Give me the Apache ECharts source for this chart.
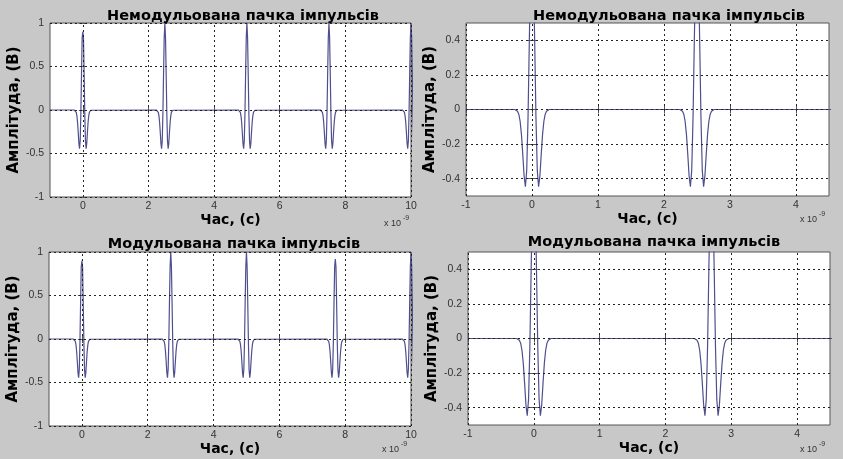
<!DOCTYPE html>
<html>
<head>
<meta charset="utf-8">
<script src="https://cdn.jsdelivr.net/npm/echarts@6/dist/echarts.min.js"></script>
<style>
  html, body { margin: 0; padding: 0; background: #c8c8c8; }
  #chart { width: 843px; height: 459px; }
</style>
</head>
<body>
<div id="chart"></div>
<script>
// pulse shape: offset from pulse centre (ns) -> amplitude (V)
const SHAPE_T = [-0.26, -0.24, -0.22, -0.2, -0.18, -0.16, -0.14, -0.12, -0.1, -0.08, -0.06, -0.04, -0.02, 0,
  0.02, 0.04, 0.06, 0.08, 0.1, 0.12, 0.14, 0.16, 0.18, 0.2, 0.22, 0.24, 0.26];
const SHAPE_V = [0, -0.003, -0.01, -0.027, -0.068, -0.144, -0.258, -0.383, -0.446, -0.352, -0.047, 0.41, 0.83, 1,
  0.83, 0.41, -0.047, -0.352, -0.446, -0.383, -0.258, -0.144, -0.068, -0.027, -0.01, -0.003, 0];

const PLAIN_CENTERS = [0, 2.5, 5, 7.5, 10];
const PLAIN_PEAKS = [0.9, 1, 1, 1, 1];
const MOD_CENTERS = [0, 2.7, 5, 7.7, 10];
const MOD_PEAKS = [0.9, 1, 1, 0.92, 1];

const WIDE_X_TICKS = [0, 2, 4, 6, 8, 10];
const WIDE_Y_TICKS = [-1, -0.5, 0, 0.5, 1];
const ZOOM_X_TICKS = [-1, 0, 1, 2, 3, 4];
const ZOOM_Y_TICKS = [-0.4, -0.2, 0, 0.2, 0.4];

const TITLE_PLAIN = "Немодульована пачка імпульсів";
const TITLE_MOD = "Модульована пачка імпульсів";
const X_NAME = "Час, (с)";
const Y_NAME = "Амплітуда, (В)";

const LABEL_FONT = "DejaVu Sans";
const TICK_FONT = "Liberation Sans";

const panels = [
  { grid: { left: 50, top: 23, width: 361, height: 174 }, x: [-1, 10], y: [-1, 1], xt: WIDE_X_TICKS, yt: WIDE_Y_TICKS,
    centers: PLAIN_CENTERS, peaks: PLAIN_PEAKS, title: TITLE_PLAIN, titleX: 238, titleY: 4, exp: [384, 219] },
  { grid: { left: 466, top: 23, width: 363, height: 173 }, x: [-1, 4.5], y: [-0.5, 0.5], xt: ZOOM_X_TICKS, yt: ZOOM_Y_TICKS,
    centers: PLAIN_CENTERS, peaks: PLAIN_PEAKS, title: TITLE_PLAIN, titleX: 664, titleY: 4, exp: [800, 215] },
  { grid: { left: 49, top: 252, width: 362, height: 174 }, x: [-1, 10], y: [-1, 1], xt: WIDE_X_TICKS, yt: WIDE_Y_TICKS,
    centers: MOD_CENTERS, peaks: MOD_PEAKS, title: TITLE_MOD, titleX: 229, titleY: 232, exp: [382, 445] },
  { grid: { left: 468, top: 252, width: 362, height: 173 }, x: [-1, 4.5], y: [-0.5, 0.5], xt: ZOOM_X_TICKS, yt: ZOOM_Y_TICKS,
    centers: MOD_CENTERS, peaks: MOD_PEAKS, title: TITLE_MOD, titleX: 649, titleY: 230, exp: [800, 445] }
];

function pulseTrain(centers, peaks, xMin) {
  const data = [[xMin, 0]];
  centers.forEach((c, i) => {
    SHAPE_T.forEach((dt, j) => {
      data.push([+(c + dt).toFixed(3), dt === 0 ? peaks[i] : SHAPE_V[j]]);
    });
  });
  data.push([centers[centers.length - 1] + 1, 0]);
  return data;
}

const tickStyle = { show: true, inside: true, length: 4, lineStyle: { color: "#555", width: 1 } };

const option = {
  animation: false,
  backgroundColor: "#c8c8c8",
  title: panels.map(p => ({
    text: p.title,
    left: p.titleX,
    top: p.titleY,
    textAlign: "center",
    textStyle: { fontFamily: LABEL_FONT, fontWeight: "bold", fontSize: 14.5, color: "#000" }
  })),
  grid: panels.map(p => ({ ...p.grid, show: true, backgroundColor: "#fff", borderColor: "#555", borderWidth: 1 })),
  xAxis: panels.flatMap((p, i) => [
    {
      type: "value", gridIndex: i, min: p.x[0], max: p.x[1], position: "bottom",
      axisLine: { show: false }, splitLine: { show: false },
      axisTick: { ...tickStyle, customValues: p.xt },
      axisLabel: { customValues: p.xt, color: "#333", fontSize: 10.5, fontFamily: TICK_FONT, margin: 4 },
      name: X_NAME, nameLocation: "middle", nameGap: 10,
      nameTextStyle: { fontFamily: LABEL_FONT, fontWeight: "bold", fontSize: 14, color: "#000" }
    },
    {
      type: "value", gridIndex: i, min: p.x[0], max: p.x[1], position: "top",
      axisLine: { show: false }, splitLine: { show: false }, axisLabel: { show: false },
      axisTick: { ...tickStyle, customValues: p.xt }
    }
  ]),
  yAxis: panels.flatMap((p, i) => [
    {
      type: "value", gridIndex: i, min: p.y[0], max: p.y[1], position: "left",
      axisLine: { show: false }, splitLine: { show: false },
      axisTick: { ...tickStyle, customValues: p.yt },
      axisLabel: { customValues: p.yt, color: "#333", fontSize: 10.5, fontFamily: TICK_FONT, margin: 6 },
      name: Y_NAME, nameLocation: "middle", nameGap: 20,
      nameTextStyle: { fontFamily: LABEL_FONT, fontWeight: "bold", fontSize: 15, color: "#000" }
    },
    {
      type: "value", gridIndex: i, min: p.y[0], max: p.y[1], position: "right",
      axisLine: { show: false }, splitLine: { show: false }, axisLabel: { show: false },
      axisTick: { ...tickStyle, customValues: p.yt }
    }
  ]),
  series: panels.flatMap((p, i) => [
    {
      type: "line", xAxisIndex: i * 2, yAxisIndex: i * 2, data: [], z: 1, silent: true,
      markLine: {
        silent: true, symbol: "none", animation: false,
        label: { show: false },
        lineStyle: { type: [2, 3], color: "#222", width: 1 },
        emphasis: { disabled: true },
        data: [...p.xt.map(v => ({ xAxis: v })), ...p.yt.map(v => ({ yAxis: v }))]
      }
    },
    {
      type: "line", xAxisIndex: i * 2, yAxisIndex: i * 2, z: 2, clip: true,
      showSymbol: false, smooth: false,
      lineStyle: { color: "#4f4f8f", width: 1.2 },
      data: pulseTrain(p.centers, p.peaks, p.x[0])
    }
  ]),
  graphic: panels.flatMap(p => [
    { type: "text", x: p.exp[0], y: p.exp[1], style: { text: "x 10", fontSize: 9, fontFamily: TICK_FONT, fill: "#333" } },
    { type: "text", x: p.exp[0] + 19, y: p.exp[1] - 4, style: { text: "-9", fontSize: 7, fontFamily: TICK_FONT, fill: "#333" } }
  ])
};

const chart = echarts.init(document.getElementById("chart"));
chart.setOption(option);
</script>
</body>
</html>
